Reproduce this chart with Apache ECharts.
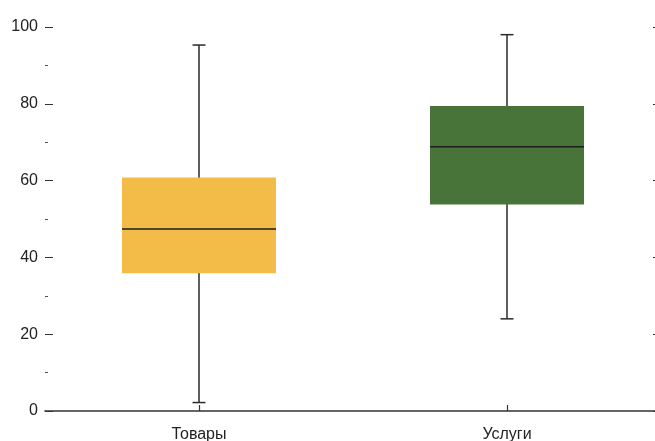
<!DOCTYPE html>
<html>
<head>
<meta charset="utf-8">
<script src="https://cdn.jsdelivr.net/npm/echarts@6/dist/echarts.min.js"></script>
<style>html,body{margin:0;padding:0;background:#fff;overflow:hidden;width:655px;height:441px}#c{width:655px;height:441px;overflow:hidden}</style>
</head>
<body>
<div id="c"></div>
<script>
var categories = ['Товары', 'Услуги'];
var whiskerLow = [2.2, 24.0];
var q1 = [35.9, 53.8];
var median = [47.4, 68.8];
var q3 = [60.8, 79.4];
var whiskerHigh = [95.3, 98.0];
var boxColors = ['#F3BB48', '#48743A'];
var yTicks = {min: 0, max: 100, interval: 20};

var data = categories.map(function (c, i) {
  return [i, whiskerLow[i], q1[i], median[i], q3[i], whiskerHigh[i]];
});

var chart = echarts.init(document.getElementById('c'), null, {renderer: 'canvas', width: 655, height: 441});
chart.setOption({
  animation: false,
  grid: {left: 45, width: 616, top: 27, height: 384, containLabel: false, outerBoundsMode: 'none'},
  xAxis: {
    type: 'category',
    data: categories,
    axisLine: {show: true, lineStyle: {color: '#333', width: 1.6}},
    axisTick: {show: true, inside: true, alignWithLabel: true, length: 6, lineStyle: {color: '#333', width: 1.2}},
    axisLabel: {color: '#222', fontSize: 16, fontFamily: 'Liberation Sans, Arial', margin: 16},
    splitLine: {show: false}
  },
  yAxis: [{
    type: 'value', min: yTicks.min, max: yTicks.max, interval: yTicks.interval,
    position: 'left',
    axisLine: {show: false},
    axisTick: {show: true, inside: true, length: 8, lineStyle: {color: '#333', width: 1}},
    minorTick: {show: true, splitNumber: 2, length: 3, lineStyle: {color: '#555', width: 1}},
    axisLabel: {color: '#222', fontSize: 16, fontFamily: 'Liberation Sans, Arial', margin: 7},
    splitLine: {show: false}
  }, {
    type: 'value', min: yTicks.min, max: yTicks.max, interval: yTicks.interval,
    position: 'right',
    axisLine: {show: false},
    axisTick: {show: true, inside: true, length: 8, lineStyle: {color: '#333', width: 1}},
    axisLabel: {show: false},
    splitLine: {show: false}
  }],
  series: [{
    type: 'custom',
    data: data,
    encode: {x: 0, y: [1, 2, 3, 4, 5]},
    renderItem: function (params, api) {
      var i = api.value(0);
      var band = api.size([1, 0])[0];
      var bw = band * 0.5;
      var cw = band * 0.042;
      var pLow = api.coord([i, api.value(1)]);
      var pQ1 = api.coord([i, api.value(2)]);
      var pMed = api.coord([i, api.value(3)]);
      var pQ3 = api.coord([i, api.value(4)]);
      var pHigh = api.coord([i, api.value(5)]);
      var x = pMed[0];
      var ls = {stroke: '#2a2a2a', lineWidth: 1.5};
      return {
        type: 'group',
        children: [
          {type: 'line', shape: {x1: x, y1: pHigh[1], x2: x, y2: pLow[1]}, style: ls},
          {type: 'line', shape: {x1: x - cw / 2, y1: pHigh[1], x2: x + cw / 2, y2: pHigh[1]}, style: ls},
          {type: 'line', shape: {x1: x - cw / 2, y1: pLow[1], x2: x + cw / 2, y2: pLow[1]}, style: ls},
          {type: 'rect', shape: {x: x - bw / 2, y: pQ3[1], width: bw, height: pQ1[1] - pQ3[1]}, style: {fill: boxColors[i]}},
          {type: 'line', shape: {x1: x - bw / 2, y1: pMed[1], x2: x + bw / 2, y2: pMed[1]}, style: {stroke: '#1e1e1e', lineWidth: 1.6}}
        ]
      };
    }
  }]
});
</script>
</body>
</html>
